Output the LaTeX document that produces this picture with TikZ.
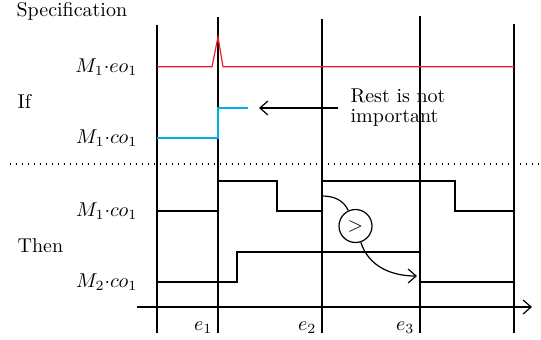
\documentclass[tikz,border=0pt]{standalone}
\usepackage{tikz}
\usetikzlibrary{positioning}
\usetikzlibrary{calc}
\usetikzlibrary{arrows.meta}
\usepackage{amsmath}
\definecolor{sigred}{RGB}{237,28,36}
\definecolor{sigblue}{RGB}{0,174,239}

\begin{document}
\begin{tikzpicture}[x=0.5pt,y=-0.5pt,line width=0.6pt,
  >={Straight Barb[length=4pt,width=7pt]},
  lbl/.style={anchor=east,inner sep=1pt},
  evt/.style={anchor=east,inner sep=1pt}]

\useasboundingbox (0,0) rectangle (541,339);

%---------------------------------------
% Event positions
%---------------------------------------
\def\xs{157}   % start
\def\xa{218}   % e1
\def\xb{322}   % e2
\def\xc{420}   % e3
\def\xe{514}   % end

\def\yeo{66.7}
\def\ycoH{108}
\def\ycoL{138}
\def\ymaH{181}
\def\ymaL{211}
\def\ymbH{252}
\def\ymbL{282}
\def\yt{307}

%====================================================
% Headings
%====================================================
\node[anchor=base west,inner sep=0] (spec) at (16,16) {Specification};
\node[anchor=base west,inner sep=0] (if) at (17,108) {If};
\node[anchor=base west,inner sep=0] (then) at (17,252) {Then};

\node[lbl] (leo) at (140,\yeo) {$M_1{\cdot}eo_1$};
\node[lbl] (lco) at (140,\ycoL) {$M_1{\cdot}co_1$};
\node[lbl] (lma) at (140,\ymaL) {$M_1{\cdot}co_1$};
\node[lbl] (lmb) at (140,\ymbL) {$M_2{\cdot}co_1$};

% Separator
\draw[dash pattern=on 0.6pt off 2.4pt] (10,164) -- (541,164);

%====================================================
% Event lines and time axis
%====================================================
\draw (\xs,25) -- (\xs,333);
\draw (\xa,17) -- (\xa,333);
\draw (\xb,19) -- (\xb,333);
\draw (\xc,16) -- (\xc,333);
\draw (\xe,24) -- (\xe,333);

\draw[->] (137,\yt) -- (532,\yt);

\node[evt] (e1) at (\xa-3,328) {$e_1$};
\node[evt] (e2) at (\xb-3,328) {$e_2$};
\node[evt] (e3) at (\xc-3,328) {$e_3$};

%====================================================
% IF part
%====================================================
\draw[sigred] (\xs,\yeo) -- (212,\yeo) -- (\xa,37) -- (223,\yeo) -- (\xe,\yeo);
\draw[sigblue] (\xs,\ycoL) -- (\xa,\ycoL) -- (\xa,\ycoH) -- (248,\ycoH);

\node[anchor=west,align=left,inner sep=3pt] (rest) at (344,108)
  {Rest is not\\[-2pt]important};
\coordinate (restend) at (259,108);
\draw[->,shorten <=3pt] (rest.west) -- (restend);

%====================================================
% THEN part
%====================================================
\draw (\xs,\ymaL) -- (\xa,\ymaL) -- (\xa,\ymaH) -- (277,\ymaH) -- (277,\ymaL)
  -- (\xb,\ymaL) -- (\xb,\ymaH) -- (455,\ymaH) -- (455,\ymaL) -- (\xe,\ymaL);
\draw (\xs,\ymbL) -- (237,\ymbL) -- (237,\ymbH) -- (\xc,\ymbH) -- (\xc,\ymbL)
  -- (\xe,\ymbL);

% Ordering of the two changes
\node[circle,draw,minimum size=16.5pt,inner sep=0] (cmp) at (355.5,226) {$>$};
\coordinate (from) at (\xb,196);
\coordinate (to) at (417,276);
\draw (from) to[out=0,in=115] (cmp);
\draw[->] (cmp) to[out=-72,in=180] (to);

\end{tikzpicture}
\end{document}
